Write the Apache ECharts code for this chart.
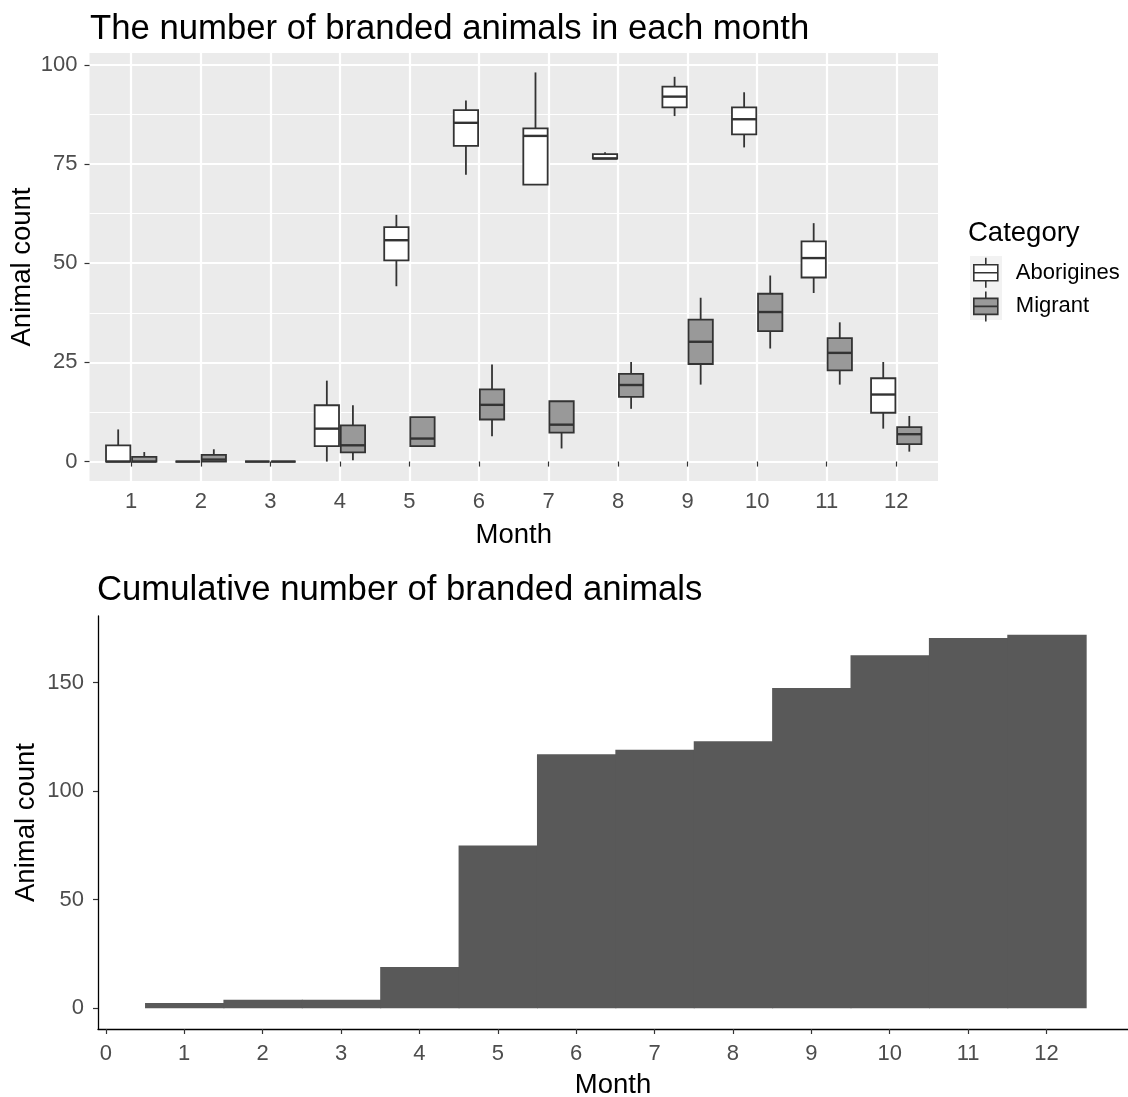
<!DOCTYPE html>
<html>
<head>
<meta charset="utf-8">
<script src="https://cdn.jsdelivr.net/npm/echarts@6/dist/echarts.min.js"></script>
<style>
  html, body { margin: 0; padding: 0; background: #fff; }
  #chart { width: 1128px; height: 1097px; }
</style>
</head>
<body>
<div id="chart"></div>
<script>
// Months on both panels
const months = [1, 2, 3, 4, 5, 6, 7, 8, 9, 10, 11, 12];

// Monthly box statistics per category: [min, q1, median, q3, max]
const aboriginesStats = [
  [0, 0, 0, 4.1, 8.1],
  [0, 0, 0, 0, 0],
  [0, 0, 0, 0, 0],
  [0, 3.9, 8.3, 14.2, 20.4],
  [44.2, 50.7, 55.8, 59.1, 62.2],
  [72.3, 79.6, 85.4, 88.6, 91.0],
  [69.8, 69.8, 82.1, 84.0, 98.1],
  [76.4, 76.4, 76.4, 77.5, 78.0],
  [87.1, 89.3, 92.0, 94.5, 97.0],
  [79.2, 82.5, 86.3, 89.3, 93.1],
  [42.5, 46.4, 51.3, 55.5, 60.1],
  [8.3, 12.3, 16.9, 21.0, 25.1]
];
const migrantStats = [
  [0, 0, 0, 1.2, 2.4],
  [0, 0, 0.5, 1.7, 3.1],
  [0, 0, 0, 0, 0],
  [0.3, 2.3, 4.1, 9.1, 14.2],
  [3.9, 3.9, 5.8, 11.2, 11.2],
  [6.4, 10.6, 14.3, 18.2, 24.5],
  [3.3, 7.3, 9.3, 15.2, 15.2],
  [13.3, 16.3, 19.3, 22.1, 25.1],
  [19.4, 24.6, 30.2, 35.8, 41.3],
  [28.5, 32.9, 37.7, 42.3, 46.9],
  [19.4, 23.0, 27.4, 31.1, 35.1],
  [2.5, 4.4, 6.9, 8.7, 11.5]
];

// Cumulative count at the end of each month
const cumulativeCount = [2.5, 4, 4, 19, 75, 117, 119, 123, 147.5, 162.5, 170.5, 172];

// Axis tick values
const countTicksTop = [0, 25, 50, 75, 100];
const countMinorTop = [12.5, 37.5, 62.5, 87.5];
const monthTicksBottom = [0, 1, 2, 3, 4, 5, 6, 7, 8, 9, 10, 11, 12];
const countTicksBottom = [0, 50, 100, 150];

const FONT = '"Liberation Sans", Arial, Helvetica, sans-serif';
const DODGE = 0.1875;   // half of the dodge width, in month units
const BOX_HALF = 0.175; // half box width, in month units
const STROKE = '#333333';

const boxData = (stats) => months.map((m, i) => [m].concat(stats[i]));
const stepData = months.map((m, i) => [m, cumulativeCount[i]]);

function boxRenderer(offset, fill) {
  return function (params, api) {
    const xc = api.value(0) + offset;
    const lo = api.value(1), q1 = api.value(2), med = api.value(3), q3 = api.value(4), hi = api.value(5);
    const tl = api.coord([xc - BOX_HALF, q3]);
    const br = api.coord([xc + BOX_HALF, q1]);
    const mid = api.coord([xc, med]);
    const top = api.coord([xc, hi]);
    const bot = api.coord([xc, lo]);
    const line = { stroke: STROKE, lineWidth: 1.8, fill: null };
    return {
      type: 'group',
      children: [
        { type: 'line', shape: { x1: mid[0], y1: top[1], x2: mid[0], y2: tl[1] }, style: line },
        { type: 'line', shape: { x1: mid[0], y1: br[1], x2: mid[0], y2: bot[1] }, style: line },
        { type: 'rect', shape: { x: tl[0], y: tl[1], width: br[0] - tl[0], height: br[1] - tl[1] },
          style: { fill: fill, stroke: STROKE, lineWidth: 1.8 } },
        { type: 'line', shape: { x1: tl[0], y1: mid[1], x2: br[0], y2: mid[1] },
          style: { stroke: STROKE, lineWidth: 2.4 } }
      ]
    };
  };
}

// One filled step per month, reaching down to zero
function stepRenderer(params, api) {
  const m = api.value(0), v = api.value(1);
  const p0 = api.coord([m - 0.5, v]);
  const p1 = api.coord([m + 0.5, 0]);
  return {
    type: 'rect',
    shape: { x: p0[0], y: p0[1], width: p1[0] - p0[0] + 1, height: p1[1] - p0[1] },
    style: { fill: '#595959' }
  };
}

const KEY_PATH = 'path://M13 0L13 7M1 7L25 7L25 23L1 23ZM1 15L25 15M13 23L13 30';

const tickLabel = { fontFamily: FONT, fontSize: 22, color: '#4D4D4D' };
const axisTitle = { fontFamily: FONT, fontSize: 27.5, color: '#000' };
const plotTitle = { fontFamily: FONT, fontSize: 34.7, fontWeight: 'normal', color: '#000' };

const chart = echarts.init(document.getElementById('chart'), null, { renderer: 'canvas' });
chart.setOption({
  animation: false,
  backgroundColor: '#ffffff',
  title: [
    { text: 'The number of branded animals in each month', left: 90, top: 12, padding: 0, textStyle: plotTitle },
    { text: 'Category', left: 968, top: 219, padding: 0,
      textStyle: { fontFamily: FONT, fontSize: 27.5, fontWeight: 'normal', color: '#000' } },
    { text: 'Cumulative number of branded animals', left: 97, top: 573, padding: 0, textStyle: plotTitle }
  ],
  // grey95 squares behind the legend keys
  graphic: [
    { type: 'rect', left: 970, top: 256, z: 1, silent: true, shape: { width: 32, height: 32 }, style: { fill: '#F2F2F2' } },
    { type: 'rect', left: 970, top: 288, z: 1, silent: true, shape: { width: 32, height: 32 }, style: { fill: '#F2F2F2' } }
  ],
  legend: {
    orient: 'vertical', left: 973, top: 257, padding: 0, z: 5,
    itemWidth: 26, itemHeight: 30, itemGap: 2,
    selectedMode: false,
    textStyle: { fontFamily: FONT, fontSize: 22, color: '#000', padding: [0, 0, 0, 12] },
    data: [
      { name: 'Aborigines', icon: KEY_PATH, itemStyle: { color: '#ffffff', borderColor: STROKE, borderWidth: 1.6 } },
      { name: 'Migrant', icon: KEY_PATH, itemStyle: { color: '#999999', borderColor: STROKE, borderWidth: 1.6 } }
    ]
  },
  grid: [
    { left: 89.5, right: 190, top: 53, bottom: 616, show: true, backgroundColor: '#EBEBEB', borderWidth: 0, outerBoundsMode: 'none' },
    { left: 98, right: 0, top: 616, bottom: 68, outerBoundsMode: 'none' }
  ],
  xAxis: [
    {
      type: 'value', gridIndex: 0, min: 0.4, max: 12.6,
      name: 'Month', nameLocation: 'middle', nameGap: 40, nameMoveOverlap: false, nameTextStyle: axisTitle,
      axisLine: { show: false },
      axisTick: { show: true, length: 5, customValues: months, lineStyle: { color: STROKE, width: 1.2 } },
      axisLabel: { margin: 10, customValues: months, ...tickLabel },
      splitLine: { show: true, lineStyle: { color: '#ffffff', width: 2.2 } }
    },
    {
      type: 'value', gridIndex: 1, min: -0.1, max: 13.04,
      name: 'Month', nameLocation: 'middle', nameGap: 42, nameMoveOverlap: false, nameTextStyle: axisTitle,
      axisLine: { show: true, onZero: false, lineStyle: { color: '#000', width: 1.3 } },
      axisTick: { show: true, length: 5, customValues: monthTicksBottom, lineStyle: { color: STROKE, width: 1.2 } },
      axisLabel: { margin: 14, customValues: monthTicksBottom, ...tickLabel },
      splitLine: { show: false }
    }
  ],
  yAxis: [
    {
      type: 'value', gridIndex: 0, min: -4.9, max: 103,
      name: 'Animal count', nameLocation: 'middle', nameRotate: 90, nameGap: 53, nameMoveOverlap: false, nameTextStyle: axisTitle,
      axisLine: { show: false },
      axisTick: { show: true, length: 5, customValues: countTicksTop, lineStyle: { color: STROKE, width: 1.2 } },
      axisLabel: { margin: 12, customValues: countTicksTop, ...tickLabel },
      splitLine: { show: true, lineStyle: { color: '#ffffff', width: 2.2 } }
    },
    {
      type: 'value', gridIndex: 0, min: -4.9, max: 103,
      axisLine: { show: false },
      axisTick: { show: false, customValues: countMinorTop },
      axisLabel: { show: false, customValues: countMinorTop },
      splitLine: { show: true, lineStyle: { color: '#ffffff', width: 1.1 } }
    },
    {
      type: 'value', gridIndex: 1, min: -9.5, max: 180.6,
      name: 'Animal count', nameLocation: 'middle', nameRotate: 90, nameGap: 58, nameMoveOverlap: false, nameTextStyle: axisTitle,
      axisLine: { show: true, onZero: false, lineStyle: { color: '#000', width: 1.3 } },
      axisTick: { show: true, length: 5, customValues: countTicksBottom, lineStyle: { color: STROKE, width: 1.2 } },
      axisLabel: { margin: 14, customValues: countTicksBottom, ...tickLabel },
      splitLine: { show: false }
    }
  ],
  series: [
    {
      name: 'Aborigines', type: 'custom', xAxisIndex: 0, yAxisIndex: 0,
      itemStyle: { color: '#ffffff' },
      renderItem: boxRenderer(-DODGE, '#ffffff'),
      encode: { x: 0, y: [1, 2, 3, 4, 5] },
      data: boxData(aboriginesStats), z: 3
    },
    {
      name: 'Migrant', type: 'custom', xAxisIndex: 0, yAxisIndex: 0,
      itemStyle: { color: '#999999' },
      renderItem: boxRenderer(DODGE, '#999999'),
      encode: { x: 0, y: [1, 2, 3, 4, 5] },
      data: boxData(migrantStats), z: 3
    },
    {
      name: 'Cumulative', type: 'custom', xAxisIndex: 1, yAxisIndex: 2,
      renderItem: stepRenderer,
      encode: { x: 0, y: 1 },
      data: stepData
    }
  ]
});
</script>
</body>
</html>
